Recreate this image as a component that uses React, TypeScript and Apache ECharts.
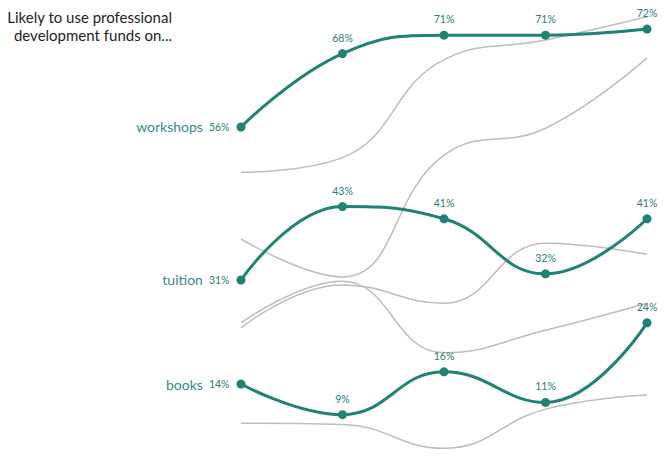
import React, { useEffect, useRef } from "react";
import * as echarts from "echarts";

const categories = ["T1", "T2", "T3", "T4", "T5"];
const highlightNames = ["workshops", "tuition", "books"];
const workshops = [56, 68, 71, 71, 72];
const tuition = [31, 43, 41, 32, 41];
const books = [14, 9, 16, 11, 24];
const otherA = [48.6, 51, 67, 70.2, 74];
const otherB = [37.7, 31.5, 51.4, 55.8, 67.3];
const otherC = [24, 30.8, 19.1, 22.8, 27.2];
const otherD = [23.2, 30.2, 27.2, 37, 35.2];
const otherE = [7.6, 7.4, 3.5, 9.9, 12.2];
const titleLines = ["Likely to use professional", "development funds on..."];

const TEAL = "#1f8275";
const FONT = "Lato";

export default function App() {
  const ref = useRef<HTMLDivElement>(null);
  useEffect(() => {
    if (!ref.current) return;
    const chart = echarts.init(ref.current, null, { renderer: "svg" });
    const greys = [otherA, otherB, otherC, otherD, otherE].map((d, i) => ({
      type: "line",
      name: "other" + i,
      data: d,
      smooth: 0.45,
      symbol: "none",
      clip: false,
      silent: true,
      z: 1,
      lineStyle: { color: "#bdbdbd", width: 1.5 },
    }));
    const highs = [workshops, tuition, books].map((d, i) => ({
      type: "line",
      name: highlightNames[i],
      smooth: 0.45,
      clip: false,
      z: 3,
      symbol: "circle",
      symbolSize: 9,
      itemStyle: { color: TEAL },
      lineStyle: { color: TEAL, width: 3 },
      label: {
        show: true,
        position: "top",
        distance: 6,
        formatter: "{c}%",
        fontFamily: FONT,
        fontSize: 10.5,
        color: "#2a7d78",
      },
      data: d.map((v, j) =>
        j === 0
          ? {
              value: v,
              label: {
                show: true,
                position: "left",
                distance: 7,
                formatter: `{n|${highlightNames[i]}}{v|${v}%}`,
                rich: {
                  n: { fontFamily: FONT, fontSize: 14, color: "#3a8a8c" },
                  v: {
                    fontFamily: FONT,
                    fontSize: 10.5,
                    color: "#2a7d78",
                    padding: [0, 0, 0, 6],
                  },
                },
              },
            }
          : v
      ),
    }));
    chart.setOption({
      animation: false,
      grid: { left: 241, width: 406, top: 10.7, height: 452.9 },
      xAxis: {
        type: "category",
        data: categories,
        boundaryGap: false,
        show: false,
      },
      yAxis: { type: "value", min: 1, max: 75, show: false },
      graphic: [
        {
          type: "text",
          x: 172,
          y: 8,
          style: {
            text: titleLines.join("\n"),
            fontFamily: FONT,
            fontSize: 15,
            lineHeight: 18,
            fill: "#222",
            align: "right",
            verticalAlign: "top",
          },
        },
      ],
      series: [...greys, ...highs],
    });
    return () => chart.dispose();
  }, []);
  return (
    <div
      ref={ref}
      style={{ position: "absolute", left: 0, top: 0, width: 667, height: 464 }}
    />
  );
}
